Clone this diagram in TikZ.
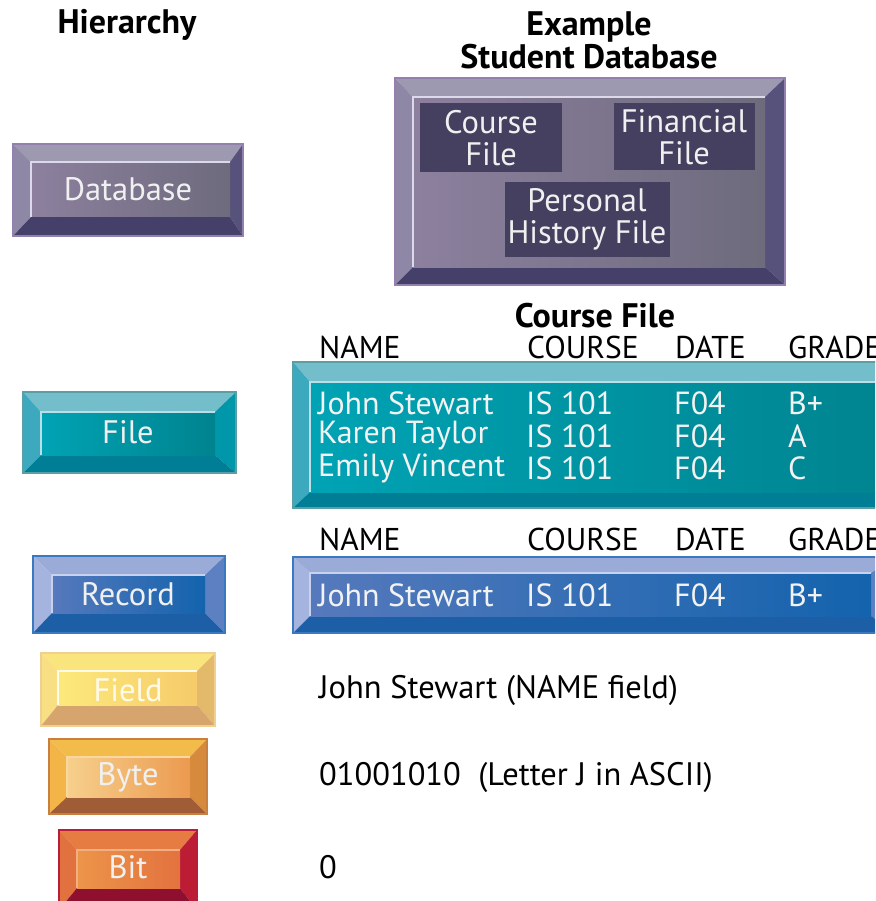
\documentclass[tikz,border=0pt]{standalone}
\usepackage{fontspec}
\setmainfont{PT Sans}
% colour sets: T top, L left, R right, B bottom, F1/F2 face, H highlight, O outline
\definecolor{dbT}{HTML}{9D99B0}\definecolor{dbL}{HTML}{8E88A6}\definecolor{dbR}{HTML}{57527C}
\definecolor{dbB}{HTML}{45406A}\definecolor{dbF1}{HTML}{8C809E}\definecolor{dbF2}{HTML}{6E6B7D}
\definecolor{dbH}{HTML}{DCDAEA}\definecolor{dbO}{HTML}{9480AE}
\definecolor{dbBox}{HTML}{45405F}
\definecolor{fiT}{HTML}{74BECB}\definecolor{fiL}{HTML}{3DA9BF}\definecolor{fiR}{HTML}{0097AA}
\definecolor{fiB}{HTML}{007E96}\definecolor{fiF1}{HTML}{00A3B4}\definecolor{fiF2}{HTML}{00838F}
\definecolor{fiH}{HTML}{B8E0E6}\definecolor{fiO}{HTML}{5A9EA6}
\definecolor{reT}{HTML}{9BABD7}\definecolor{reL}{HTML}{A4B4DF}\definecolor{reR}{HTML}{5C80C2}
\definecolor{reB}{HTML}{1C5FA6}\definecolor{reF1}{HTML}{5679BC}\definecolor{reF2}{HTML}{1363AD}
\definecolor{reH}{HTML}{C8D2EC}\definecolor{reO}{HTML}{3A78C0}
\definecolor{fdT}{HTML}{FAE47E}\definecolor{fdL}{HTML}{F9DF84}\definecolor{fdR}{HTML}{E3B96C}
\definecolor{fdB}{HTML}{D6A56E}\definecolor{fdF1}{HTML}{FCE97C}\definecolor{fdF2}{HTML}{F6CB6A}
\definecolor{fdH}{HTML}{FFFBE8}\definecolor{fdO}{HTML}{F0D090}
\definecolor{byT}{HTML}{F3BC4A}\definecolor{byL}{HTML}{F4B548}\definecolor{byR}{HTML}{D68A3C}
\definecolor{byB}{HTML}{A05C36}\definecolor{byF1}{HTML}{F6D08C}\definecolor{byF2}{HTML}{EC9A50}
\definecolor{byH}{HTML}{F8D8A0}\definecolor{byO}{HTML}{C9803E}
\definecolor{biT}{HTML}{E77C42}\definecolor{biL}{HTML}{E1713F}\definecolor{biR}{HTML}{BC1C34}
\definecolor{biB}{HTML}{8E102E}\definecolor{biF1}{HTML}{EC9549}\definecolor{biF2}{HTML}{E3723F}
\definecolor{biH}{HTML}{F2B080}\definecolor{biO}{HTML}{B81D3A}
\newcommand\bevbox[5]{%
  \coordinate (o1) at (#2); \coordinate (o2) at (#3);
  \coordinate (i1) at (#4); \coordinate (i2) at (#5);
  \fill[#1T] (o1) -- (o2 |- o1) -- (i2 |- i1) -- (i1) -- cycle;
  \fill[#1L] (o1) -- (i1) -- (i1 |- i2) -- (o1 |- o2) -- cycle;
  \fill[#1R] (o2 |- o1) -- (o2) -- (i2) -- (i2 |- i1) -- cycle;
  \fill[#1B] (o1 |- o2) -- (i1 |- i2) -- (i2) -- (o2) -- cycle;
  \shade[left color=#1F1, right color=#1F2] (i1) rectangle (i2);
  \draw[#1H, line width=1.5] (i1 |- i2) -- (i1) -- (i2 |- i1);
  \draw[#1O, line width=1.2] (o1) rectangle (o2);
}
\tikzset{
  title/.style={font=\fontsize{34}{33}\selectfont\bfseries, text=black, inner sep=0, align=center},
  lbl/.style={font=\fontsize{32.5}{34}\selectfont, text=white!94!black, inner sep=0},
  boxlbl/.style={font=\fontsize{32.5}{32}\selectfont, text=white!94!black, inner sep=0, align=center},
  tbl/.style={font=\fontsize{32}{32}\selectfont, text=white!95!black, inner sep=0, anchor=west},
  head/.style={font=\fontsize{31.5}{32}\selectfont, text=black, inner sep=0, anchor=west},
  plain/.style={font=\fontsize{32.5}{34}\selectfont, text=black, inner sep=0, anchor=west},
}
\begin{document}
\begin{tikzpicture}[x=1pt,y=-1pt]
\useasboundingbox (0,0) rectangle (875,901);
\clip (0,0) rectangle (875,901);
\fill[white] (0,0) rectangle (875,901);
% titles
\node[title] (thier) at (127,25) {Hierarchy};
\node[title] (tex) at (589,40) {Example\\Student Database};
% Database button
\bevbox{db}{13,144}{243,236}{31,162}{230,217}
\node[lbl] (ldb) at (128,189) {Database};
% Example database box
\bevbox{db}{395,78}{785,285}{413,97}{765,267}
\fill[dbBox] (420,103) rectangle (562,172);
\fill[dbBox] (614,103) rectangle (755,170);
\fill[dbBox] (505,182) rectangle (670,257);
\node[boxlbl] (bcf) at (491,138) {Course\\File};
\node[boxlbl] (bff) at (684,137) {Financial\\File};
\node[boxlbl] (bph) at (587,219) {Personal\\History File};
% Course file heading
\node[title] (tcf) at (595,316) {Course File};
\node[head] (h1n) at (319,347) {NAME};
\node[head] (h1c) at (527,347) {COURSE};
\node[head] (h1d) at (675,347) {DATE};
\node[head] (h1g) at (788,347) {GRADE};
% File button and bar
\bevbox{fi}{23,392}{236,473}{41,412}{215,455}
\node[lbl] (lfi) at (128,432) {File};
\bevbox{fi}{293,362}{920,508}{310,382}{900,492}
\node[tbl] (r1n) at (318,403) {John Stewart};
\node[tbl] (r1c) at (526,403) {IS 101};
\node[tbl] (r1d) at (674,403) {F04};
\node[tbl] (r1g) at (788,403) {B+};
\node[tbl] (r2n) at (318,436) {Karen Taylor};
\node[tbl] (r2c) at (526,436) {IS 101};
\node[tbl] (r2d) at (674,436) {F04};
\node[tbl] (r2g) at (788,436) {A};
\node[tbl] (r3n) at (318,468) {Emily Vincent};
\node[tbl] (r3c) at (526,468) {IS 101};
\node[tbl] (r3d) at (674,468) {F04};
\node[tbl] (r3g) at (788,468) {C};
% Record
\node[head] (h2n) at (319,539) {NAME};
\node[head] (h2c) at (527,539) {COURSE};
\node[head] (h2d) at (675,539) {DATE};
\node[head] (h2g) at (788,539) {GRADE};
\bevbox{re}{33,556}{225,633}{52,575}{205,613}
\node[lbl] (lre) at (128,594) {Record};
\bevbox{re}{293,557}{895,633}{310,573}{871,616}
\node[tbl] (s1n) at (318,595) {John Stewart};
\node[tbl] (s1c) at (526,595) {IS 101};
\node[tbl] (s1d) at (674,595) {F04};
\node[tbl] (s1g) at (788,595) {B+};
% Field, Byte, Bit
\bevbox{fd}{41,653}{215,726}{58,671}{197,705}
\node[lbl, text=fdH] (lfd) at (128,690) {Field};
\node[plain] (tfd) at (319,690) {John Stewart (NAME field)};
\bevbox{by}{49,739}{207,814}{67,757}{190,797}
\node[lbl] (lby) at (128,777) {Byte};
\node[plain] (tby) at (319,777) {01001010\ \ (Letter J in ASCII)};
\bevbox{bi}{59,830}{197,910}{77,850}{180,888}
\node[lbl] (lbi) at (128,867) {Bit};
\node[plain] (tbi) at (319,867) {0};
\end{tikzpicture}
\end{document}
